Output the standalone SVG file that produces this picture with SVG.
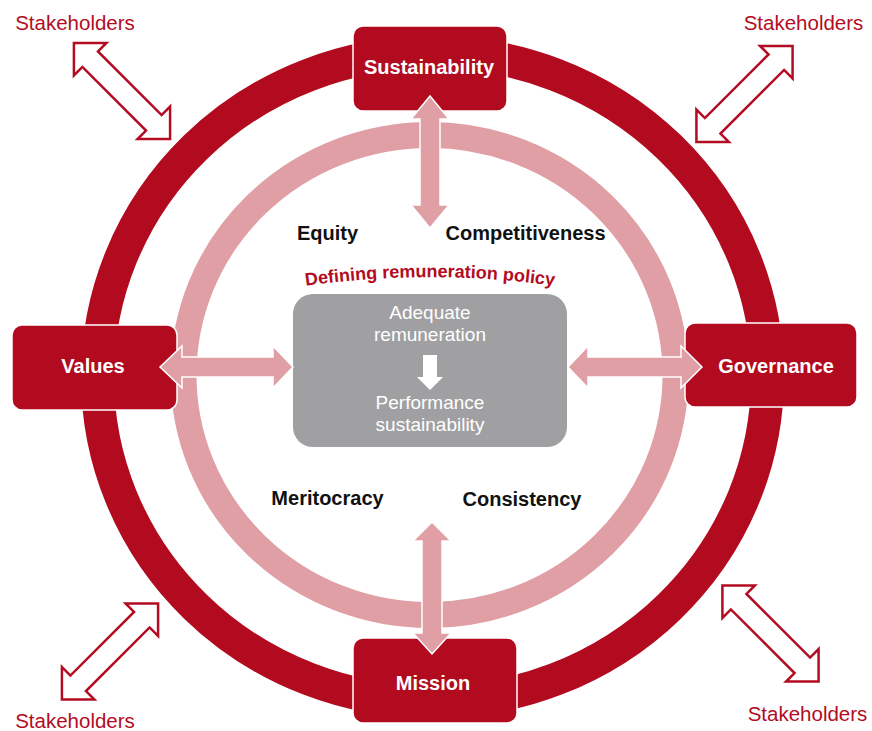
<svg xmlns="http://www.w3.org/2000/svg" width="872" height="731" viewBox="0 0 872 731">
<style>
.box{fill:#b20a1e;stroke:#fff;stroke-width:1.5}
.lbl{font-family:"Liberation Sans",Arial,sans-serif;font-weight:bold;font-size:20px;fill:#fff;text-anchor:middle}
.blk{font-family:"Liberation Sans",Arial,sans-serif;font-weight:bold;font-size:20px;fill:#111;text-anchor:middle}
.ctr{font-family:"Liberation Sans",Arial,sans-serif;font-size:19px;fill:#fff;text-anchor:middle}
.stk{font-family:"Liberation Sans",Arial,sans-serif;font-size:20.5px;fill:#b30c22;text-anchor:middle}
.parr{fill:#e09ea5;stroke:#fff;stroke-width:1.5}
.sarr{fill:#fff;stroke:#b30c22;stroke-width:2.5}
</style>
<defs>
<polygon id="darr" points="-68,0 -45,-23 -45,-11 45,-11 45,-23 68,0 45,23 45,11 -45,11 -45,23"/>
<path id="arcpath" d="M 270 291.5 A 900 900 0 0 1 590 291.5"/>
</defs>
<rect width="872" height="731" fill="#fff"/>
<g id="rings">
<ellipse cx="432.5" cy="377" rx="335" ry="325" fill="none" stroke="#b20a1e" stroke-width="33"/>
<ellipse cx="429.5" cy="375" rx="246" ry="240" fill="none" stroke="#e09ea5" stroke-width="26"/>
</g>
<g id="center">
<rect x="293" y="294" width="274" height="153" rx="20" fill="#a0a0a2"/>
<text class="ctr" x="430" y="319">Adequate</text>
<text class="ctr" x="430" y="341">remuneration</text>
<polygon points="423,355 437,355 437,377 443,377 430,390 417,377 423,377" fill="#fff"/>
<text class="ctr" x="430" y="409">Performance</text>
<text class="ctr" x="430" y="431">sustainability</text>
</g>
<g id="sustainability">
<rect class="box" x="353" y="26" width="154" height="85" rx="10"/>
<text class="lbl" x="429" y="74">Sustainability</text>
</g>
<g id="values">
<rect class="box" x="12" y="325" width="165" height="85" rx="10"/>
<text class="lbl" x="93" y="373">Values</text>
</g>
<g id="governance">
<rect class="box" x="685" y="323" width="172" height="84" rx="10"/>
<text class="lbl" x="776" y="373">Governance</text>
</g>
<g id="mission">
<rect class="box" x="353" y="638" width="164" height="85" rx="10"/>
<text class="lbl" x="433" y="690">Mission</text>
</g>
<g id="connectors">
<polygon class="parr" points="430,96 449,119 440,119 440,205 449,205 430,228 411,205 420,205 420,119 411,119"/>
<polygon class="parr" points="432,522 451,541 442,541 442,633 451,633 432,654 413,633 422,633 422,541 413,541"/>
<polygon class="parr" points="160,367 182,346 182,357 273,357 273,346 293,367 273,388 273,377 182,377 182,388"/>
<polygon class="parr" points="568,367 588,346 588,357 681,357 681,346 702,367 681,388 681,377 588,377 588,388"/>
<use href="#darr" class="sarr" transform="translate(122,91) rotate(45)"/>
<use href="#darr" class="sarr" transform="translate(744.5,94) rotate(-45)"/>
<use href="#darr" class="sarr" transform="translate(770.5,633.5) rotate(45)"/>
<use href="#darr" class="sarr" transform="translate(110,651.5) rotate(-45)"/>
</g>
<g id="labels">
<text class="blk" x="327.5" y="240">Equity</text>
<text class="blk" x="525.5" y="240">Competitiveness</text>
<text class="blk" x="327.5" y="505">Meritocracy</text>
<text class="blk" x="522" y="506">Consistency</text>
<text font-family="Liberation Sans, Arial, sans-serif" font-weight="bold" font-size="18" fill="#b30c22"><textPath href="#arcpath" startOffset="50%" text-anchor="middle">Defining remuneration policy</textPath></text>
</g>
<g id="stakeholders">
<text class="stk" x="75" y="29.5">Stakeholders</text>
<text class="stk" x="803.5" y="29.5">Stakeholders</text>
<text class="stk" x="75" y="728">Stakeholders</text>
<text class="stk" x="807.5" y="721">Stakeholders</text>
</g>
</svg>
